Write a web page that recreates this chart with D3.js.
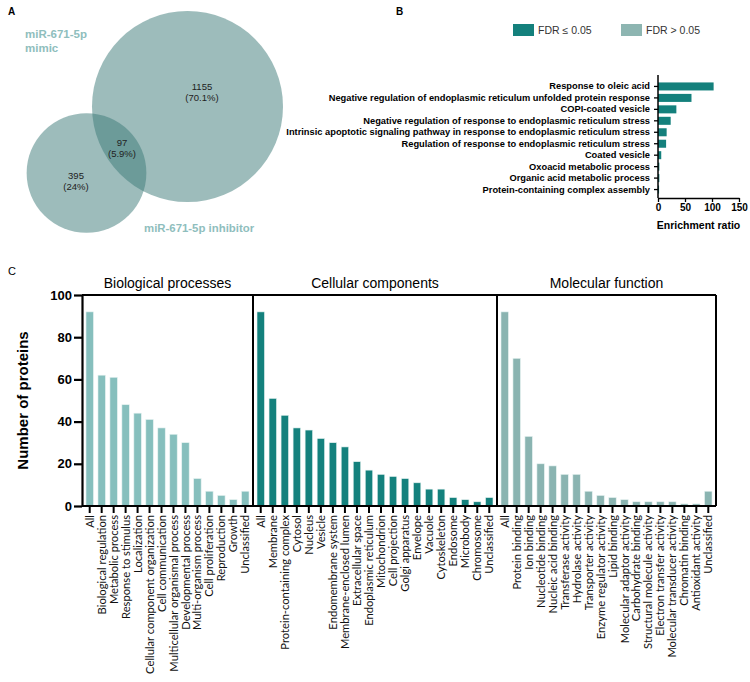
<!DOCTYPE html>
<html>
<head>
<meta charset="utf-8">
<script src="https://cdn.jsdelivr.net/npm/d3@7"></script>
<style>
  body { margin: 0; background: #fff; }
  svg { display: block; }
  text { font-family: "Liberation Sans", Arial, Helvetica, sans-serif; }
</style>
</head>
<body>
<svg id="chart"></svg>
<script>
// ---- panel A: venn counts
const vennNames = ["miR-671-5p", "mimic", "miR-671-5p inhibitor"];
const onlyMimic = 395, both = 97, onlyInhib = 1155;
const vennPct = ["24%", "5.9%", "70.1%"];

// ---- panel B: enrichment
const goTerms = [
  "Response to oleic acid",
  "Negative regulation of endoplasmic reticulum unfolded protein response",
  "COPI-coated vesicle",
  "Negative regulation of response to endoplasmic reticulum stress",
  "Intrinsic apoptotic signaling pathway in response to endoplasmic reticulum stress",
  "Regulation of response to endoplasmic reticulum stress",
  "Coated vesicle",
  "Oxoacid metabolic process",
  "Organic acid metabolic process",
  "Protein-containing complex assembly"
];
const goRatio = [103, 62, 34, 23.5, 16, 15, 6, 2.5, 2.5, 2];
const goFdrOk = [true, true, true, true, true, true, true, true, true, true];
const ratioTicks = [0, 50, 100, 150];
const legendLabels = ["FDR \u2264 0.05", "FDR > 0.05"];

// ---- panel C: GO slim counts
const panelTitles = ["Biological processes", "Cellular components", "Molecular function"];
const bpNames = ["All", "Biological regulation", "Metabolic process", "Response to stimulus",
  "Localization", "Cellular component organization", "Cell communication",
  "Multicellular organismal process", "Developmental process", "Multi-organism process",
  "Cell proliferation", "Reproduction", "Growth", "Unclassified"];
const bpCounts = [92, 62, 61, 48, 44, 41, 37, 34, 30, 13, 7, 5, 3, 7];
const ccNames = ["All", "Membrane", "Protein-containing complex", "Cytosol", "Nucleus", "Vesicle",
  "Endomembrane system", "Membrane-enclosed lumen", "Extracellular space",
  "Endoplasmic reticulum", "Mitochondrion", "Cell projection", "Golgi apparatus", "Envelope",
  "Vacuole", "Cytoskeleton", "Endosome", "Microbody", "Chromosome", "Unclassified"];
const ccCounts = [92, 51, 43, 37, 36, 32, 30, 28, 21, 17, 15, 14, 13, 11, 8, 8, 4, 3, 2, 4];
const mfNames = ["All", "Protein binding", "Ion binding", "Nucleotide binding", "Nucleic acid binding",
  "Transferase activity", "Hydrolase activity", "Transporter activity",
  "Enzyme regulator activity", "Lipid binding", "Molecular adaptor activity",
  "Carbohydrate binding", "Structural molecule activity", "Electron transfer activity",
  "Molecular transducer activity", "Chromatin binding", "Antioxidant activity", "Unclassified"];
const mfCounts = [92, 70, 33, 20, 19, 15, 15, 7, 5, 4, 3, 2, 2, 2, 2, 1, 1, 7];
const countTicks = [0, 20, 40, 60, 80, 100];

const dark = "#14807c", light = "#8db5b1";

const svg = d3.select("#chart").attr("width", 750).attr("height", 682);

// panel letters
svg.append("text").attr("x", 8).attr("y", 15).text("A")
  .style("font-weight", "bold").style("font-size", "10px");
svg.append("text").attr("x", 396).attr("y", 15).text("B")
  .style("font-weight", "bold").style("font-size", "10px");
svg.append("text").attr("x", 8).attr("y", 275).text("C")
  .style("font-size", "11px");

// ================= A : venn
let rScale = d3.scaleSqrt().domain([0, onlyInhib + both]).range([0, 95.5]);
let rBig = rScale(onlyInhib + both), rSmall = rScale(onlyMimic + both);
let bigC = [187.5, 106.5], smallC = [86.5, 173];

let gA = svg.append("g");
gA.selectAll("circle")
  .data([[bigC, rBig], [smallC, rSmall]])
  .enter().append("circle")
  .attr("cx", d => d[0][0]).attr("cy", d => d[0][1]).attr("r", d => d[1])
  .attr("fill", "#3b7a78").attr("fill-opacity", 0.5);

let vennLabels = [
  { n: onlyInhib, p: vennPct[2], x: 202, y: 87 },
  { n: both, p: vennPct[1], x: 122, y: 143 },
  { n: onlyMimic, p: vennPct[0], x: 76, y: 176 }
];
vennLabels.forEach(v => {
  let t = gA.append("text").attr("text-anchor", "middle")
    .style("font-size", "9.5px").attr("fill", "#222");
  t.append("tspan").attr("x", v.x).attr("y", v.y + 3).text(v.n);
  t.append("tspan").attr("x", v.x).attr("y", v.y + 14).text("(" + v.p + ")");
});

gA.append("text").attr("x", 25).attr("y", 38).text(vennNames[0])
  .attr("fill", "#8fbebd").style("font-weight", "bold").style("font-size", "11.5px");
gA.append("text").attr("x", 25).attr("y", 52).text(vennNames[1])
  .attr("fill", "#8fbebd").style("font-weight", "bold").style("font-size", "11.5px");
gA.append("text").attr("x", 144).attr("y", 232).text(vennNames[2])
  .attr("fill", "#8fbebd").style("font-weight", "bold").style("font-size", "11.4px");

// ================= B : enrichment bars
let xB = d3.scaleLinear().domain([0, 150]).range([658, 739]);
let yB = d3.scaleBand().domain(goTerms).range([79, 197]).padding(0.3);

let gB = svg.append("g");
gB.selectAll(".gobar")
  .data(goTerms)
  .enter().append("rect")
  .attr("class", "gobar")
  .attr("x", xB(0))
  .attr("y", d => yB(d))
  .attr("width", (d, i) => xB(goRatio[i]) - xB(0))
  .attr("height", yB.bandwidth())
  .attr("fill", (d, i) => goFdrOk[i] ? dark : light);

let yAxB = gB.append("g").attr("transform", `translate(${xB(0)},0)`)
  .call(d3.axisLeft(yB).tickSize(4).tickSizeOuter(0));
yAxB.select(".domain").remove();
yAxB.selectAll("line").attr("stroke-width", 1.3);
yAxB.selectAll("text").attr("dx", "-1px")
  .style("font-weight", "bold").style("font-size", "9.3px").style("font-family", "'Liberation Sans', Arial");
gB.append("line").attr("x1", xB(0)).attr("x2", xB(0)).attr("y1", 75).attr("y2", 198)
  .attr("stroke", "#000").attr("stroke-width", 1.5);

let xAxB = gB.append("g").attr("transform", "translate(0,198)")
  .call(d3.axisBottom(xB).tickValues(ratioTicks).tickSize(4).tickSizeOuter(0));
xAxB.select(".domain").attr("stroke-width", 1.5);
xAxB.selectAll("line").attr("stroke-width", 1.3);
xAxB.selectAll("text").attr("y", 6)
  .style("font-weight", "bold").style("font-size", "10px").style("font-family", "'Liberation Sans', Arial");
gB.append("text").attr("x", xB(75)).attr("y", 229).attr("text-anchor", "middle")
  .text("Enrichment ratio").style("font-weight", "bold").style("font-size", "10.5px");

// legend
let legX = [513, 621];
legendLabels.forEach((lab, i) => {
  gB.append("rect").attr("x", legX[i]).attr("y", 24).attr("width", 21).attr("height", 12)
    .attr("fill", i == 0 ? dark : light);
  gB.append("text").attr("x", legX[i] + 25).attr("y", 34).text(lab)
    .attr("fill", "#333").style("font-size", "10.5px");
});

// ================= C : three panels of counts
let plotTop = 295, plotBottom = 506;
let yC = d3.scaleLinear().domain([0, 100]).range([plotBottom, plotTop]);
let edges = [82, 253, 497, 716];
let panels = [
  { names: bpNames, counts: bpCounts, color: "#86bfbd" },
  { names: ccNames, counts: ccCounts, color: "#14817d" },
  { names: mfNames, counts: mfCounts, color: "#8ab4b1" }
];

let gC = svg.append("g");

panels.forEach((p, k) => {
  let xC = d3.scaleBand().domain(p.names)
    .range([edges[k] + 1, edges[k + 1] - 1])
    .paddingInner(0.38).paddingOuter(0.25);

  gC.selectAll(".bar" + k)
    .data(p.names)
    .enter().append("rect")
    .attr("class", "bar" + k)
    .attr("x", d => xC(d))
    .attr("y", (d, i) => yC(p.counts[i]))
    .attr("width", xC.bandwidth())
    .attr("height", (d, i) => yC(0) - yC(p.counts[i]))
    .attr("fill", p.color)
    .attr("stroke", "#e6f2f1").attr("stroke-width", 0.6);

  let ax = gC.append("g").attr("transform", `translate(0,${plotBottom})`)
    .call(d3.axisBottom(xC).tickSize(7).tickSizeOuter(0));
  ax.select(".domain").remove();
  ax.selectAll("line").attr("stroke-width", 2);
  ax.selectAll("text")
    .attr("transform", "rotate(-90)")
    .attr("text-anchor", "end")
    .attr("x", -9).attr("y", 0).attr("dy", "0.36em")
    .style("font-family", "Lato, sans-serif")
    .style("font-size", "11.2px")
    .attr("fill", "#111");

  gC.append("text")
    .attr("x", (edges[k] + edges[k + 1]) / 2).attr("y", 288)
    .attr("text-anchor", "middle")
    .text(panelTitles[k]).style("font-size", "14px");
});

// frame
let frame = gC.append("g").attr("stroke", "#000").attr("stroke-width", 2).attr("fill", "none");
frame.append("line").attr("x1", edges[0]).attr("x2", edges[3]).attr("y1", plotTop).attr("y2", plotTop);
frame.append("line").attr("x1", edges[0]).attr("x2", edges[3]).attr("y1", plotBottom).attr("y2", plotBottom);
edges.slice(1).forEach(e => {
  frame.append("line").attr("x1", e).attr("x2", e).attr("y1", plotTop).attr("y2", plotBottom);
});

let yAxC = gC.append("g").attr("transform", `translate(${edges[0]},0)`)
  .call(d3.axisLeft(yC).tickValues(countTicks).tickSize(8).tickSizeOuter(0));
yAxC.select(".domain").attr("stroke-width", 2.2);
yAxC.selectAll("line").attr("stroke-width", 2.2);
yAxC.selectAll("text").attr("x", -10)
  .style("font-weight", "bold").style("font-size", "13px").style("font-family", "'Liberation Sans', Arial");

gC.append("text")
  .attr("transform", `translate(28,${(plotTop + plotBottom) / 2}) rotate(-90)`)
  .attr("text-anchor", "middle")
  .text("Number of proteins")
  .style("font-weight", "bold").style("font-size", "15px");
</script>
</body>
</html>
